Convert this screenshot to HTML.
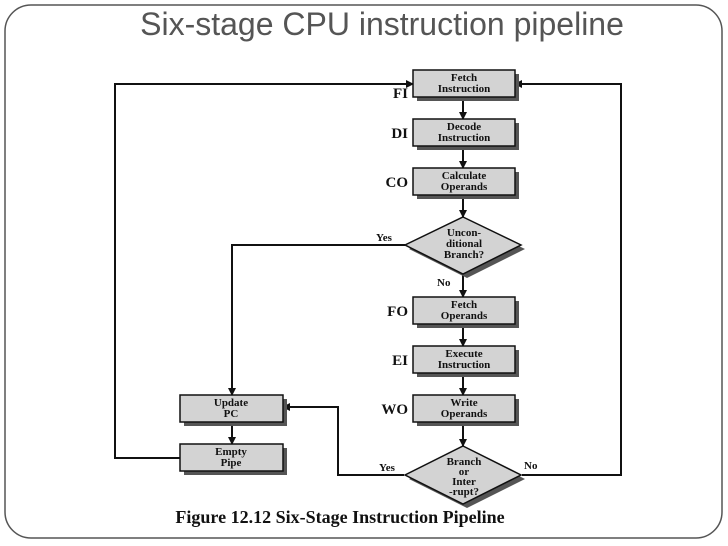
<!DOCTYPE html>
<html><head><style>
body{margin:0;background:#fff;overflow:hidden}
svg{display:block}
.b{font-family:"Liberation Serif",serif;font-weight:bold;font-size:11px;fill:#111;text-anchor:middle}
.l{font-family:"Liberation Serif",serif;font-weight:bold;font-size:15px;fill:#111;text-anchor:end}
.s{font-family:"Liberation Serif",serif;font-weight:bold;font-size:11px;fill:#111}
</style></head><body>
<svg width="728" height="546" viewBox="0 0 728 546" xmlns="http://www.w3.org/2000/svg">
<defs><marker id="a" markerWidth="8" markerHeight="8" refX="7" refY="4" orient="auto" markerUnits="userSpaceOnUse"><path d="M0,0L8,4L0,8z" fill="#111"/></marker></defs>
<rect x="5" y="5" width="717" height="533" rx="26" fill="none" stroke="#555" stroke-width="1.5"/>
<text x="382" y="35" text-anchor="middle" font-family="Liberation Sans,sans-serif" font-size="32" fill="#555">Six-stage CPU instruction pipeline</text>
<g stroke="#111" stroke-width="2" fill="none">
<line x1="463" y1="97" x2="463" y2="119" marker-end="url(#a)"/>
<line x1="463" y1="146" x2="463" y2="168" marker-end="url(#a)"/>
<line x1="463" y1="195" x2="463" y2="217" marker-end="url(#a)"/>
<line x1="463" y1="274" x2="463" y2="297" marker-end="url(#a)"/>
<line x1="463" y1="324" x2="463" y2="346" marker-end="url(#a)"/>
<line x1="463" y1="373" x2="463" y2="395" marker-end="url(#a)"/>
<line x1="463" y1="422" x2="463" y2="446" marker-end="url(#a)"/>
<line x1="232" y1="422" x2="232" y2="444" marker-end="url(#a)"/>
<polyline points="405,245 232,245 232,395" marker-end="url(#a)"/>
<polyline points="404,475 338,475 338,407 283,407" marker-end="url(#a)"/>
<polyline points="180,458 115,458 115,84 413,84" marker-end="url(#a)"/>
<polyline points="522,475 621,475 621,84 515,84" marker-end="url(#a)"/>
</g>
<g fill="#555">
<rect x="417" y="74" width="102" height="27"/><rect x="417" y="123" width="102" height="27"/><rect x="417" y="172" width="102" height="27"/>
<rect x="417" y="301" width="102" height="27"/><rect x="417" y="350" width="102" height="27"/><rect x="417" y="399" width="102" height="27"/>
<rect x="184" y="399" width="103" height="27"/><rect x="184" y="448" width="103" height="27"/>
<polygon points="467,221 525,249 467,278 409,249"/><polygon points="467,450 525,479 467,508 409,479"/>
</g>
<g fill="#d3d3d3" stroke="#111" stroke-width="1.5">
<rect x="413" y="70" width="102" height="27"/><rect x="413" y="119" width="102" height="27"/><rect x="413" y="168" width="102" height="27"/>
<rect x="413" y="297" width="102" height="27"/><rect x="413" y="346" width="102" height="27"/><rect x="413" y="395" width="102" height="27"/>
<rect x="180" y="395" width="103" height="27"/><rect x="180" y="444" width="103" height="27"/>
<polygon points="463,217 521,245 463,274 405,245"/><polygon points="463,446 521,475 463,504 405,475"/>
</g>
<text class="b" x="464" y="81">Fetch</text><text class="b" x="464" y="92">Instruction</text>
<text class="b" x="464" y="130">Decode</text><text class="b" x="464" y="141">Instruction</text>
<text class="b" x="464" y="179">Calculate</text><text class="b" x="464" y="190">Operands</text>
<text class="b" x="464" y="236">Uncon-</text><text class="b" x="464" y="247">ditional</text><text class="b" x="464" y="258">Branch?</text>
<text class="b" x="464" y="308">Fetch</text><text class="b" x="464" y="319">Operands</text>
<text class="b" x="464" y="357">Execute</text><text class="b" x="464" y="368">Instruction</text>
<text class="b" x="464" y="406">Write</text><text class="b" x="464" y="417">Operands</text>
<text class="b" x="464" y="465">Branch</text><text class="b" x="464" y="475">or</text><text class="b" x="464" y="485">Inter</text><text class="b" x="464" y="495">-rupt?</text>
<text class="b" x="231" y="406">Update</text><text class="b" x="231" y="417">PC</text>
<text class="b" x="231" y="455">Empty</text><text class="b" x="231" y="466">Pipe</text>
<text class="l" x="408" y="98">FI</text>
<text class="l" x="408" y="138">DI</text>
<text class="l" x="408" y="187">CO</text>
<text class="l" x="408" y="316">FO</text>
<text class="l" x="408" y="365">EI</text>
<text class="l" x="408" y="414">WO</text>
<text class="s" x="376" y="241">Yes</text>
<text class="s" x="437" y="286">No</text>
<text class="s" x="379" y="471">Yes</text>
<text class="s" x="524" y="469">No</text>
<text x="340" y="523" text-anchor="middle" font-family="Liberation Serif,serif" font-weight="bold" font-size="18" fill="#111">Figure 12.12  Six-Stage Instruction Pipeline</text>
</svg>
</body></html>
